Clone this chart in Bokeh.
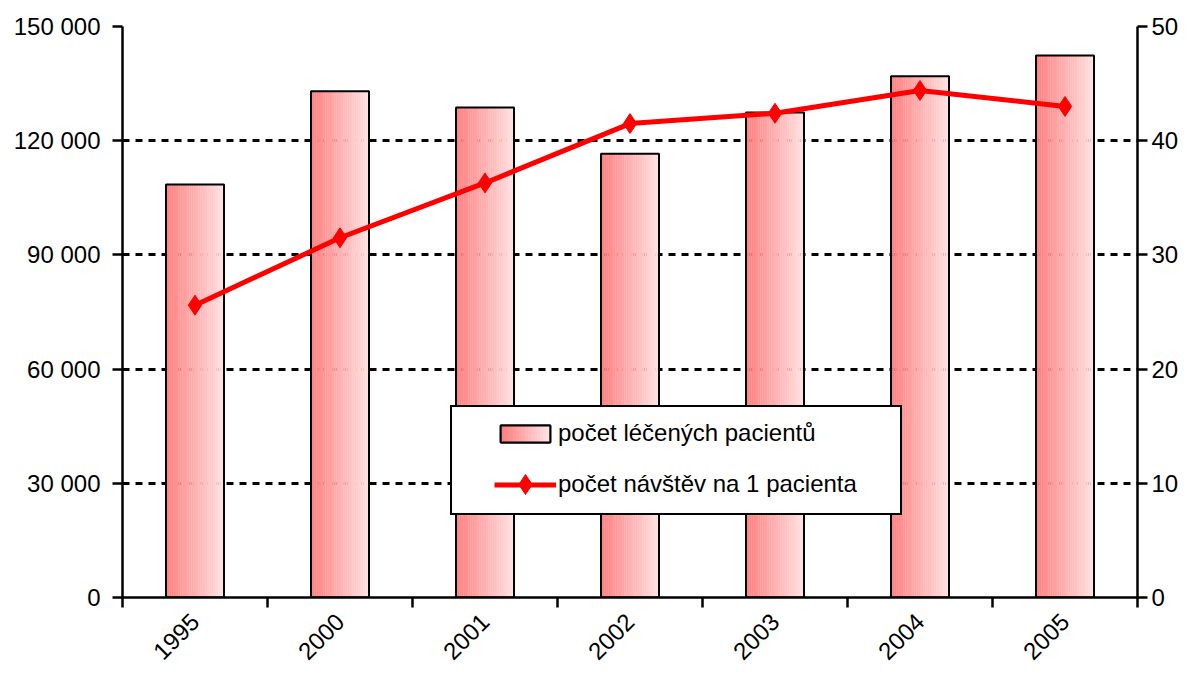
import numpy as np
from bokeh.plotting import figure
from bokeh.models import Range1d, LinearAxis, FixedTicker, Legend, LegendItem
from bokeh.embed import file_html
from bokeh.resources import INLINE

# ---- data ----
years = ["1995", "2000", "2001", "2002", "2003", "2004", "2005"]
patients = [108500, 133000, 128700, 116600, 127400, 136900, 142400]
visits = [25.6, 31.5, 36.3, 41.5, 42.4, 44.4, 43.0]
left_ticks = [0, 30000, 60000, 90000, 120000, 150000]
right_ticks = [0, 10, 20, 30, 40, 50]
label_bars = "počet léčených pacientů"
label_line = "počet návštěv na 1 pacienta"

FONT = "Liberation Sans"
FS = "24px"

xs = np.arange(len(years), dtype=float)

p = figure(width=1188, height=683, output_backend="svg", toolbar_location=None,
           x_range=Range1d(-0.5, len(years) - 0.5),
           y_range=Range1d(0, left_ticks[-1]),
           min_border_left=122, min_border_right=51,
           min_border_top=26, min_border_bottom=86)
p.outline_line_color = None
p.background_fill_color = "white"
p.border_fill_color = "white"
p.extra_y_ranges = {"right": Range1d(0, right_ticks[-1])}

# ---- gradient bars (vertical strips) ----
bar_w = 0.4
N = 32
c0 = np.array([255, 128, 128])
c1 = np.array([255, 224, 224])
strip_renderers = []
for k in range(N):
    t = k / (N - 1)
    c = (c0 + (c1 - c0) * t).round().astype(int)
    col = "#%02x%02x%02x" % tuple(c)
    off = -bar_w / 2 + (k + 0.5) * bar_w / N
    r = p.vbar(x=xs + off, width=bar_w / N * 1.15, top=patients, bottom=0,
               fill_color=col, line_color=None)
    strip_renderers.append(r)

outline = p.vbar(x=xs, width=bar_w, top=patients, bottom=0,
                 fill_color=None, line_color="black", line_width=2)

# ---- line on right axis ----
line_r = p.line(xs, visits, y_range_name="right", line_color="#ff0000", line_width=5)
mark_r = p.scatter(xs, visits, y_range_name="right", marker="diamond", size=20,
                   fill_color="#ff0000", line_color="#ff0000")

# invisible renderer used only for the legend frame
ghost = p.scatter(x=[], y=[], fill_alpha=0, line_alpha=0)

# ---- axes ----
xa = p.xaxis[0]
xa.ticker = FixedTicker(ticks=list(xs), minor_ticks=list(xs - 0.5) + [xs[-1] + 0.5])
xa.major_label_overrides = {int(i): y for i, y in enumerate(years)}
xa.major_label_orientation = np.pi / 4
xa.major_tick_out = 0
xa.major_tick_in = 0
xa.minor_tick_out = 10
xa.minor_tick_in = 0
xa.minor_tick_line_color = "black"
xa.minor_tick_line_width = 2.5
xa.axis_line_color = "black"
xa.axis_line_width = 2.5
xa.major_label_text_font = FONT
xa.major_label_text_font_size = FS
xa.major_label_text_color = "black"
xa.major_label_standoff = 10

ya = p.yaxis[0]
ya.ticker = FixedTicker(ticks=left_ticks)
ya.major_label_overrides = {v: f"{v:,}".replace(",", " ") for v in left_ticks}
ya.major_tick_out = 10
ya.major_tick_in = 0
ya.minor_tick_line_color = None
ya.major_tick_line_color = "black"
ya.major_tick_line_width = 2.5
ya.axis_line_color = "black"
ya.axis_line_width = 2.5
ya.major_label_text_font = FONT
ya.major_label_text_font_size = FS
ya.major_label_text_color = "black"
ya.major_label_standoff = 12

ra = LinearAxis(y_range_name="right", ticker=FixedTicker(ticks=right_ticks))
ra.major_tick_out = 10
ra.major_tick_in = 0
ra.minor_tick_line_color = None
ra.major_tick_line_color = "black"
ra.major_tick_line_width = 2.5
ra.axis_line_color = "black"
ra.axis_line_width = 2.5
ra.major_label_text_font = FONT
ra.major_label_text_font_size = FS
ra.major_label_text_color = "black"
ra.major_label_standoff = 4
p.add_layout(ra, "right")

# ---- grid ----
p.xgrid.visible = False
p.ygrid.ticker = FixedTicker(ticks=left_ticks)
p.ygrid.grid_line_color = "black"
p.ygrid.grid_line_width = 3
p.ygrid.grid_line_dash = "7 6"

# ---- legend ----
LX, LY, LW, LH = 328, 82, 448, 106


def overlay_legend(renderers, x, y, gw, gh, lh):
    return Legend(items=[LegendItem(label=" ", renderers=renderers)],
                  location=(float(x), float(y)), orientation="vertical",
                  border_line_color=None, background_fill_alpha=0,
                  padding=0, spacing=0, margin=0,
                  glyph_width=int(gw), glyph_height=int(gh), label_standoff=0,
                  label_width=0, label_height=int(lh),
                  label_text_font=FONT, label_text_font_size=FS)


# frame of the legend
frame_leg = Legend(items=[LegendItem(label=" ", renderers=[ghost])],
                   location=(LX, LY), orientation="vertical",
                   border_line_color="black", border_line_width=2, border_line_alpha=1,
                   background_fill_color="white", background_fill_alpha=1,
                   padding=0, spacing=0, margin=0,
                   glyph_width=1, glyph_height=1, label_standoff=0,
                   label_width=LW - 1, label_height=LH,
                   label_text_font=FONT, label_text_font_size=FS)
p.add_layout(frame_leg)

GW = 62
GH = 21
legend = Legend(items=[LegendItem(label=label_bars, renderers=[strip_renderers[N // 2], outline]),
                       LegendItem(label=label_line, renderers=[line_r])],
                location=(LX + 44, LY + 16), orientation="vertical",
                border_line_color=None, background_fill_alpha=0,
                padding=0, spacing=21, margin=0,
                glyph_width=GW, glyph_height=GH, label_standoff=2,
                label_height=30,
                label_text_font=FONT, label_text_font_size=FS,
                label_text_color="black")
p.add_layout(legend)

# gradient for the legend's bar patch (overlay strips)
M = 16
SG = 5                     # strip glyph width (drawn width = 0.8 * SG)
patch_x0 = LX + 44 + 0.1 * GW
patch_w = 0.8 * GW
drawn = 0.8 * SG
for k in range(M):
    idx = round(k * (N - 1) / (M - 1))
    left = patch_x0 + k * (patch_w - drawn) / (M - 1)
    p.add_layout(overlay_legend([strip_renderers[idx]], left - 0.1 * SG,
                                LY + 67, SG, GH, 30))
# outline of the legend patch on top
p.add_layout(overlay_legend([outline], LX + 44, LY + 67, GW, GH, 30))

# larger diamond for the legend's line item (overlay)
p.add_layout(overlay_legend([mark_r], LX + 44, LY + 6, GW, 50, 50))

open("out.html", "w").write(file_html(p, INLINE))
